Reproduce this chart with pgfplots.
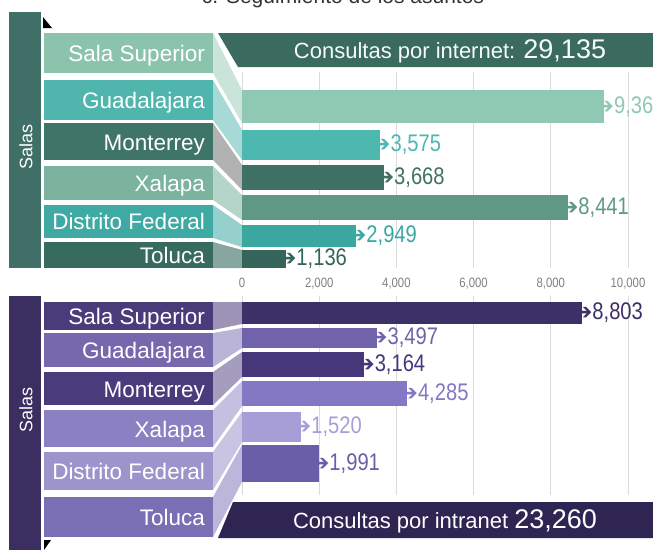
\documentclass[border=0pt]{standalone}
\usepackage{pgfplots}
\pgfplotsset{compat=1.18}
\usepackage{fontspec}
\setmainfont{Liberation Sans}
\newfontfamily\narrow[FakeStretch=0.84]{Liberation Sans}
\newfontfamily\dejavu{DejaVu Sans}

% top (green) palette
\definecolor{tband}{HTML}{3F6F66}
\definecolor{tbanner}{HTML}{3A6B5E}
\definecolor{tb1}{HTML}{8CC3AD}
\definecolor{tb2}{HTML}{4FB5AD}
\definecolor{tb3}{HTML}{3F7468}
\definecolor{tb4}{HTML}{7BB39F}
\definecolor{tb5}{HTML}{3FA9A3}
\definecolor{tb6}{HTML}{376B5E}
\definecolor{tr1}{HTML}{8FC8B3}
\definecolor{tr2}{HTML}{4DB8B0}
\definecolor{tr3}{HTML}{3F7265}
\definecolor{tr4}{HTML}{5F9985}
\definecolor{tr5}{HTML}{3AA7A1}
\definecolor{tr6}{HTML}{34645A}
% bottom (purple) palette
\definecolor{bband}{HTML}{3B2E60}
\definecolor{bbanner}{HTML}{2F2552}
\definecolor{bb1}{HTML}{4A3B7A}
\definecolor{bb2}{HTML}{7668AD}
\definecolor{bb3}{HTML}{4A3B7C}
\definecolor{bb4}{HTML}{8A80C2}
\definecolor{bb5}{HTML}{9D94CB}
\definecolor{bb6}{HTML}{7A6EB4}
\definecolor{br1}{HTML}{3D3067}
\definecolor{br2}{HTML}{7062AB}
\definecolor{br3}{HTML}{45377A}
\definecolor{br4}{HTML}{8477C3}
\definecolor{br5}{HTML}{A79ED8}
\definecolor{br6}{HTML}{6A5EA8}

\pgfplotsset{
  hb/.style n args={2}{xbar, bar shift=0pt, draw=none, fill=#1, bar width=#2,
    nodes near coords={{\dejavu\fontsize{22}{22}\selectfont\char"2794}\pgfmathprintnumber[assume math mode=true,1000 sep={,}]{\pgfplotspointmeta}},
    every node near coord/.style={anchor=west, inner sep=0pt, xshift=-8pt, text=#1,
      font=\narrow\fontsize{24}{24}\selectfont}},
  panel/.style={scale only axis, width=386pt, xmin=0, xmax=10000, y dir=reverse,
    axis line style={draw=none}, major tick length=0pt, ytick=\empty,
    xtick={0,2000,4000,6000,8000,10000}, scaled x ticks=false,
    xmajorgrids, grid style={black!14, line width=0.8pt},
    clip=false},
}

\begin{document}
\begin{tikzpicture}
\path[use as bounding box] (0pt,0pt) rectangle (653pt,-550pt);
\begin{scope}
\clip (0pt,0pt) rectangle (653pt,-550pt);
\begin{scope}[x=1pt,y=-1pt]
% title (cut at the top edge)
\node[anchor=base, font=\fontsize{21}{21}\selectfont, text=black!80, inner sep=0pt] at (343,3.5) {c. Seguimiento de los asuntos};

% ===== top panel =====
\fill[tband] (9,12) rectangle (41,268);
\node[rotate=90, text=white, font=\fontsize{18}{18}\selectfont] at (26,147) {Salas};
\fill[black] (43,17) -- (52,28) -- (43,28) -- cycle;
% connectors
\fill[tb1!45!white] (213,33) -- (242,90) -- (242,123) -- (213,73) -- cycle;
\fill[tb2!50!white] (213,80) -- (242,130) -- (242,160) -- (213,120) -- cycle;
\fill[black!30] (213,123) -- (242,165) -- (242,190) -- (213,160) -- cycle;
\fill[tb4!55!white] (213,166) -- (242,195) -- (242,220) -- (213,200) -- cycle;
\fill[tb5!55!white] (213,205) -- (242,225) -- (242,247) -- (213,238) -- cycle;
\fill[tb6!60!white] (213,242) -- (242,250) -- (242,268) -- (213,268) -- cycle;
% label boxes
\fill[tb1] (44,33) rectangle (213,73);
\fill[tb2] (44,80) rectangle (213,120);
\fill[tb3] (44,123) rectangle (213,160);
\fill[tb4] (44,166) rectangle (213,200);
\fill[tb5] (44,205) rectangle (213,238);
\fill[tb6] (44,242) rectangle (213,268);
\begin{scope}[every node/.style={anchor=base east, text=white, inner sep=0pt, font=\fontsize{22.5}{22.5}\selectfont}]
\node at (205,61) {Sala Superior};
\node at (205,108) {Guadalajara};
\node at (205,150) {Monterrey};
\node at (205,191) {Xalapa};
\node at (205,229) {Distrito Federal};
\node at (205,263) {Toluca};
\end{scope}
% banner
\fill[tbanner] (218,33) -- (653,33) -- (653,67) -- (238,67) -- cycle;
\node[anchor=base, text=white!92!tb1, inner sep=0pt] at (450,58) {\fontsize{22}{22}\selectfont Consultas por internet: \fontsize{27}{27}\selectfont 29,135};

% ===== bottom panel =====
\fill[bband] (9,296) rectangle (41,550);
\node[rotate=90, text=white, font=\fontsize{18}{18}\selectfont] at (26,410) {Salas};
\fill[black] (44,540) -- (51,540) -- (44,550) -- cycle;
% connectors
\fill[bb1!55!white] (213,302) -- (242,302) -- (242,324) -- (213,330) -- cycle;
\fill[bb2!50!white] (213,333) -- (242,328) -- (242,348) -- (213,367) -- cycle;
\fill[bb3!50!white] (213,372) -- (242,352) -- (242,377) -- (213,405) -- cycle;
\fill[bb4!50!white] (213,410) -- (242,381) -- (242,406) -- (213,447) -- cycle;
\fill[bb5!55!white] (213,452) -- (242,412) -- (242,442) -- (213,490) -- cycle;
\fill[bb6!50!white] (213,497) -- (242,445) -- (242,482) -- (213,537) -- cycle;
% label boxes
\fill[bb1] (44,302) rectangle (213,330);
\fill[bb2] (44,333) rectangle (213,367);
\fill[bb3] (44,372) rectangle (213,405);
\fill[bb4] (44,410) rectangle (213,447);
\fill[bb5] (44,452) rectangle (213,490);
\fill[bb6] (44,497) rectangle (213,537);
\begin{scope}[every node/.style={anchor=base east, text=white, inner sep=0pt, font=\fontsize{22.5}{22.5}\selectfont}]
\node at (205,324) {Sala Superior};
\node at (205,358) {Guadalajara};
\node at (205,397) {Monterrey};
\node at (205,437) {Xalapa};
\node at (205,479) {Distrito Federal};
\node at (205,525) {Toluca};
\end{scope}
% banner
\fill[bbanner] (233,502) -- (653,502) -- (653,538) -- (218,538) -- cycle;
\node[anchor=base, text=white, inner sep=0pt] at (445,528) {\fontsize{22}{22}\selectfont Consultas por intranet \fontsize{27}{27}\selectfont 23,260};
\end{scope}

% ===== top axis (data) =====
\begin{axis}[panel, at={(242pt,-268pt)}, anchor=south west, height=196pt,
  ymin=72, ymax=268,
  xticklabel style={font=\narrow\fontsize{13.5}{13.5}\selectfont, text=black!50, yshift=-7pt},
  /pgf/number format/assume math mode=true]
\addplot[hb={tr1}{33}] coordinates {(9366,106.5)};
\addplot[hb={tr2}{30}] coordinates {(3575,145)};
\addplot[hb={tr3}{25}] coordinates {(3668,177.5)};
\addplot[hb={tr4}{25}] coordinates {(8441,207.5)};
\addplot[hb={tr5}{22}] coordinates {(2949,236)};
\addplot[hb={tr6}{18}] coordinates {(1136,259)};
\end{axis}

% ===== bottom axis (data) =====
\begin{axis}[panel, at={(242pt,-495pt)}, anchor=south west, height=199pt,
  ymin=296, ymax=495, xticklabels={}]
\addplot[hb={br1}{22}] coordinates {(8803,313)};
\addplot[hb={br2}{20}] coordinates {(3497,338)};
\addplot[hb={br3}{25}] coordinates {(3164,364.5)};
\addplot[hb={br4}{25}] coordinates {(4285,393.5)};
\addplot[hb={br5}{30}] coordinates {(1520,427)};
\addplot[hb={br6}{37}] coordinates {(1991,463.5)};
\end{axis}
\end{scope}
\end{tikzpicture}
\end{document}
